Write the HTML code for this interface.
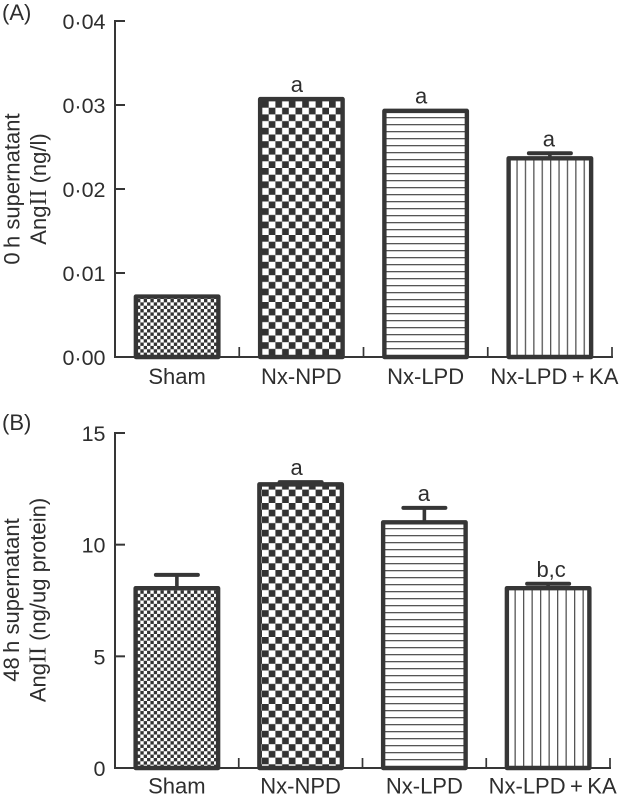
<!DOCTYPE html>
<html>
<head>
<meta charset="utf-8">
<style>
html,body{margin:0;padding:0;background:#fff;width:619px;height:798px;overflow:hidden}
svg{display:block}
text{font-family:"Liberation Sans",sans-serif;font-size:22px;fill:#2e2e2e}
</style>
</head>
<body>
<svg id="fig" width="619" height="798" viewBox="0 0 619 798" xmlns="http://www.w3.org/2000/svg">
<defs>
<pattern id="pat-fine" patternUnits="userSpaceOnUse" width="6.7" height="6.7" x="137" y="299">
<rect width="6.7" height="6.7" fill="#fff"/>
<rect x="0" y="0" width="3.35" height="3.35" fill="#333"/>
<rect x="3.35" y="3.35" width="3.35" height="3.35" fill="#333"/>
</pattern>
<pattern id="pat-coarse" patternUnits="userSpaceOnUse" width="13.4" height="13.4" x="262" y="101">
<rect width="13.4" height="13.4" fill="#fff"/>
<rect x="0" y="0" width="6.7" height="6.7" fill="#333"/>
<rect x="6.7" y="6.7" width="6.7" height="6.7" fill="#333"/>
</pattern>
<pattern id="pat-hlines-a" patternUnits="userSpaceOnUse" width="10" height="7" y="5">
<rect width="10" height="7" fill="#fff"/>
<rect y="0" width="10" height="1.3" fill="#555"/>
</pattern>
<pattern id="pat-hlines-b" patternUnits="userSpaceOnUse" width="10" height="7" y="3">
<rect width="10" height="7" fill="#fff"/>
<rect y="0" width="10" height="1.3" fill="#555"/>
</pattern>
<pattern id="pat-vlines-a" patternUnits="userSpaceOnUse" width="8.4" height="10" x="4">
<rect width="8.4" height="10" fill="#fff"/>
<rect x="0" width="1.3" height="10" fill="#555"/>
</pattern>
<pattern id="pat-vlines-b" patternUnits="userSpaceOnUse" width="8.5" height="10" x="4.5">
<rect width="8.5" height="10" fill="#fff"/>
<rect x="0" width="1.3" height="10" fill="#555"/>
</pattern>
</defs>
</svg>
<script>
var categories = ['Sham', 'Nx-NPD', 'Nx-LPD', 'Nx-LPD\u2009+\u2009KA'];
var valuesA = [0.0072, 0.0307, 0.0293, 0.02365];
var errorsA = [0, 0, 0, 0.0006];
var lettersA = ['', 'a', 'a', 'a'];
var ticksA = [0, 0.01, 0.02, 0.03, 0.04];
var tickLabelsA = ['0\u00b700', '0\u00b701', '0\u00b702', '0\u00b703', '0\u00b704'];
var valuesB = [8.05, 12.7, 11.0, 8.05];
var errorsB = [0.6, 0.1, 0.65, 0.2];
var lettersB = ['', 'a', 'a', 'b,c'];
var ticksB = [0, 5, 10, 15];
var tickLabelsB = ['0', '5', '10', '15'];

var svg = document.getElementById('fig');
var NS = 'http://www.w3.org/2000/svg';
var INK = '#363636';

function mk(tag, attrs, parent) {
  var el = document.createElementNS(NS, tag);
  for (var k in attrs) el.setAttribute(k, attrs[k]);
  (parent || svg).appendChild(el);
  return el;
}

function drawPanel(cfg) {
  var y = function (v) { return cfg.y0 - v * (cfg.y0 - cfg.yTop) / cfg.yMax; };
  var bandW = (cfg.xEnd - cfg.x0) / cfg.categories.length;
  var xc = function (i) { return cfg.x0 + bandW * (i + 0.5); };

  var g = mk('g', {});
  
  

  cfg.values.forEach(function (v, i) {
    var bw = 82.5;
    var top = y(v);
    var bar = mk('rect', {
      x: xc(i) - bw / 2, y: top, width: bw, height: cfg.y0 - top,
      fill: 'url(#' + cfg.patterns[i] + ')', stroke: INK, 'stroke-width': 4.4,
      'stroke-linejoin': 'round'
    }, g);
    
    

    var labelTop = top - 2.2;
    if (cfg.errors[i] > 0) {
      var capY = y(v + cfg.errors[i]);
      var stem = mk('line', { x1: xc(i), x2: xc(i), y1: top, y2: capY, stroke: INK, 'stroke-width': 3.6 }, g);
      
      
      var cap = mk('line', { x1: xc(i) - 21, x2: xc(i) + 21, y1: capY, y2: capY, stroke: INK, 'stroke-width': 4, 'stroke-linecap': 'round' }, g);
      
      
      labelTop = capY - 2;
    }
    if (cfg.letters[i]) {
      var sig = mk('text', { x: xc(i) + cfg.letterDx[i], y: labelTop - 5, 'text-anchor': 'middle' }, g);
      sig.textContent = cfg.letters[i];
      
      
    }
  });

  var yAxis = mk('line', { x1: cfg.x0, x2: cfg.x0, y1: cfg.yTop - 1, y2: cfg.y0 + 1, stroke: INK, 'stroke-width': 2 }, g);
  
  
  var xAxis = mk('line', { x1: cfg.x0 - 1, x2: cfg.xEnd + 1, y1: cfg.y0, y2: cfg.y0, stroke: INK, 'stroke-width': 2 }, g);
  
  

  cfg.ticks.forEach(function (t, i) {
    var tick = mk('line', { x1: cfg.x0, x2: cfg.x0 + 10, y1: y(t), y2: y(t), stroke: INK, 'stroke-width': 2 }, g);
    
    
    var lab = mk('text', { x: 105.5, y: y(t) + 8, 'text-anchor': 'end', style: 'font-size:21.5px' }, g);
    lab.textContent = cfg.tickLabels[i];
    
    
  });

  cfg.categories.forEach(function (c, i) {
    var tx = cfg.x0 + bandW * (i + 1);
    var tick = mk('line', { x1: tx, x2: tx, y1: cfg.y0, y2: cfg.y0 - 10, stroke: INK, 'stroke-width': 1.7 }, g);
    
    
    var lab = mk('text', { x: xc(i) + (i === 3 ? 4.5 : 0), y: cfg.y0 + cfg.labelGap, 'text-anchor': 'middle' }, g);
    lab.textContent = c;
    
    
  });

  var pl = mk('text', { x: 2, y: cfg.panelY }, g);
  pl.textContent = cfg.panel;
  
  

  var t1 = mk('text', { transform: 'translate(' + cfg.t1x + ',' + cfg.tyc + ') rotate(-90)', 'text-anchor': 'middle' }, g);
  t1.textContent = cfg.title1;
  
  

  var t2 = mk('text', { transform: 'translate(' + cfg.t2x + ',' + cfg.tyc + ') rotate(-90)', 'text-anchor': 'middle' }, g);
  
  
  t2.appendChild(document.createTextNode('Ang'));
  var roman = mk('tspan', { style: 'font-family:"Liberation Serif",serif;font-size:24px' }, t2);
  roman.textContent = 'II';
  t2.appendChild(document.createTextNode(' ' + cfg.title2));
}

drawPanel({
  id: 'panel-a', panel: '(A)', panelY: 20, x0: 115, xEnd: 612, y0: 357, yTop: 21, yMax: 0.04, labelGap: 27,
  categories: categories, values: valuesA, errors: errorsA, letters: lettersA,
  letterDx: [0, -4.5, -4.5, -1],
  ticks: ticksA, tickLabels: tickLabelsA,
  patterns: ['pat-fine', 'pat-coarse', 'pat-hlines-a', 'pat-vlines-a'],
  title1: '0\u2009h supernatant', title2: '(ng/l)', t1x: 19.5, t2x: 46, tyc: 189
});
drawPanel({
  id: 'panel-b', panel: '(B)', panelY: 430, x0: 115, xEnd: 610, y0: 768, yTop: 433, yMax: 15, labelGap: 25.5,
  categories: categories, values: valuesB, errors: errorsB, letters: lettersB,
  letterDx: [0, -4, -0.5, 3],
  ticks: ticksB, tickLabels: tickLabelsB,
  patterns: ['pat-fine', 'pat-coarse', 'pat-hlines-b', 'pat-vlines-b'],
  title1: '48\u2009h supernatant', title2: '(ng/ug protein)', t1x: 19, t2x: 45.5, tyc: 600
});
</script>
</body>
</html>
